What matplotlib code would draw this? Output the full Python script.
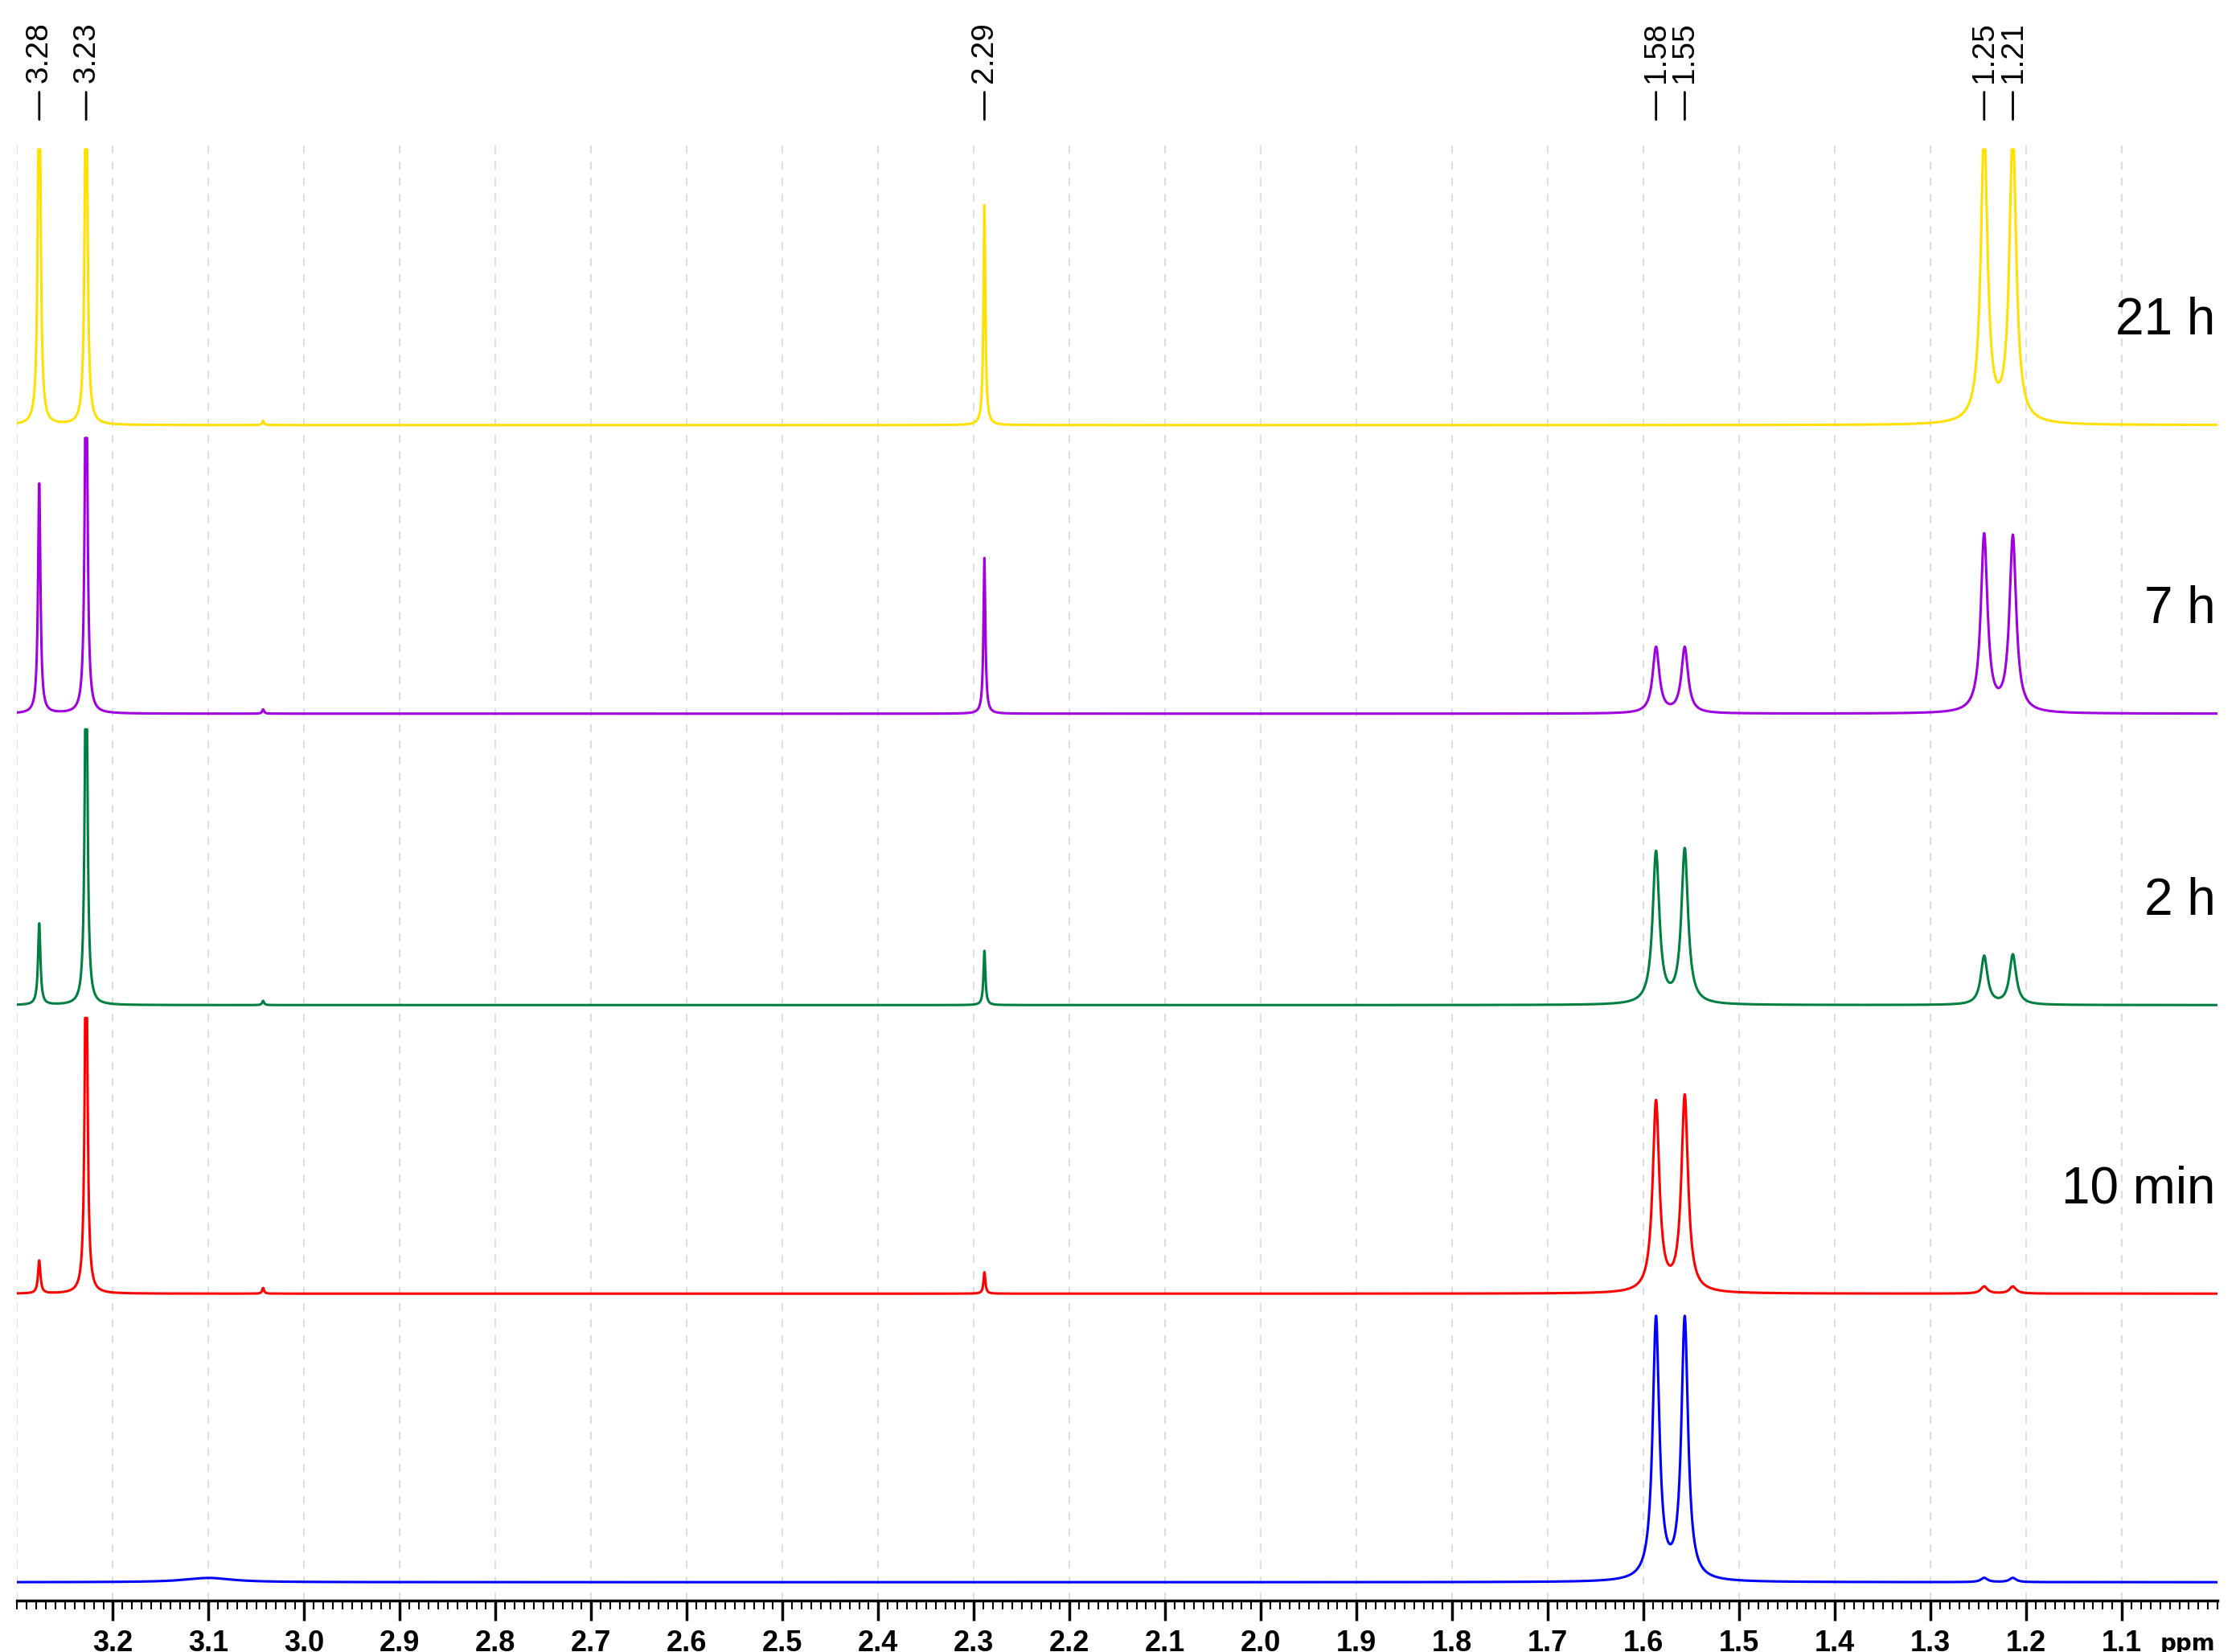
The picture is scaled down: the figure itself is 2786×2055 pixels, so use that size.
import numpy as np
import matplotlib
matplotlib.use("Agg")
import matplotlib.pyplot as plt
from matplotlib.ticker import MultipleLocator

# ---- data ----
labels_time = ["21 h", "7 h", "2 h", "10 min", ""]
colors = ["#ffe000", "#a000e0", "#008040", "#ff0000", "#0000ff"]
baselines = [823, 621, 417, 215, 13]
peak_pos = [3.277, 3.228, 3.100, 3.043, 2.289, 1.587, 1.557, 1.244, 1.214]
peak_width = [0.0015, 0.0015, 0.03, 0.0012, 0.0012, 0.0042, 0.0042, 0.0042, 0.0042]
heights_21h = [300, 300, 0, 3, 154, 0, 0, 205, 205]
heights_7h = [161, 300, 0, 3, 109, 46, 46, 124, 123]
heights_2h = [57, 300, 0, 3, 38, 106, 108, 34, 35]
heights_10m = [23, 300, 0, 4, 15, 133, 137, 5, 5]
heights_0 = [0, 0, 3, 0, 0, 183, 183, 3, 3]
all_heights = [heights_21h, heights_7h, heights_2h, heights_10m, heights_0]
clip_height = 193
marked = [3.28, 3.23, 2.29, 1.58, 1.55, 1.25, 1.21]
marked_pos = [3.277, 3.228, 2.289, 1.587, 1.557, 1.244, 1.214]

fig = plt.figure(figsize=(27.86, 20.55), dpi=100)
ax = fig.add_axes([0.0077, 0.031, 0.9823, 0.882])
x = np.linspace(1.0, 3.30, 40000)
for h, c, b in zip(all_heights, colors, baselines):
    y = np.zeros_like(x)
    for p, w, a in zip(peak_pos, peak_width, h):
        y += a * w**2 / ((x - p)**2 + w**2)
    y = np.minimum(y, clip_height)
    ax.plot(x, y + b, color=c, lw=2.2)
for t, b in zip(labels_time, baselines):
    ax.text(0.999, b + 73, t, transform=ax.get_yaxis_transform(), ha="right",
            va="center", fontsize=46, family="Liberation Sans")

ax.set_xlim(3.30, 1.0)
ax.set_ylim(0, 1020)
for s in ["top", "left", "right"]:
    ax.spines[s].set_visible(False)
ax.spines["bottom"].set_linewidth(2.5)
ax.set_yticks([])
ticks = np.round(np.arange(1.1, 3.25, 0.1), 1)
ax.set_xticks(ticks)
ax.set_xticklabels([f"{t:.1f}" for t in ticks], fontweight="bold",
                   family=["Liberation Sans Narrow", "Liberation Sans"])
ax.xaxis.set_minor_locator(MultipleLocator(0.01))
ax.tick_params(axis="x", which="major", length=18, width=2.5, labelsize=26, pad=8)
ax.tick_params(axis="x", which="minor", length=8, width=1.5)
for t in np.arange(1.1, 3.35, 0.1):
    ax.axvline(t, color="#d8d8d8", lw=1.2, ls=(0, (6, 6)), zorder=0)
ax.text(0.999, -0.022, "ppm", transform=ax.transAxes, ha="right",
        va="top", fontsize=20, fontweight="bold")
for lab, p in zip(marked, marked_pos):
    ax.annotate("", xy=(p, 1.015), xytext=(p, 1.037), xycoords=("data", "axes fraction"),
                arrowprops=dict(arrowstyle="-", lw=2, color="black"))
    ax.text(p, 1.042, f"{lab:.2f}", transform=ax.get_xaxis_transform(), rotation=90,
            ha="center", va="bottom", fontsize=28, family="Liberation Sans")
fig.savefig("out.png", dpi=100)
